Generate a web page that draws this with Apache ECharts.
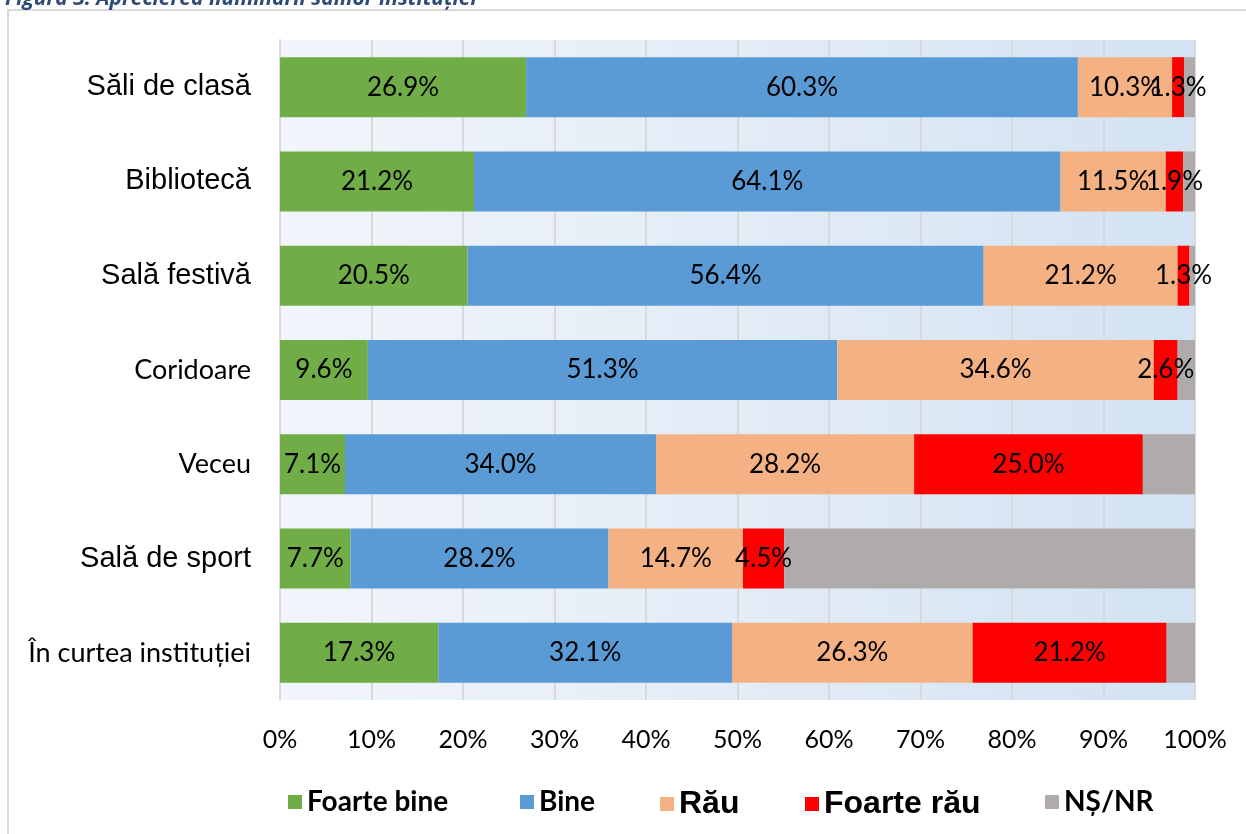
<!DOCTYPE html>
<html>
<head>
<meta charset="utf-8">
<script src="https://cdn.jsdelivr.net/npm/echarts@6/dist/echarts.min.js"></script>
<style>
  html, body { margin: 0; padding: 0; background: #fff; }
  #main { width: 1246px; height: 834px; }
</style>
</head>
<body>
<div id="main"></div>
<script>
// categorii (de sus in jos)
const categories = [
  "Săli de clasă",
  "Bibliotecă",
  "Sală festivă",
  "Coridoare",
  "Veceu",
  "Sală de sport",
  "În curtea instituției"
];
// care etichete sunt scrise cu Calibri in original
const calibriCats = ["Coridoare", "Veceu", "În curtea instituției"];

const foarteBine = [26.9, 21.2, 20.5, 9.6, 7.1, 7.7, 17.3];
const bine       = [60.3, 64.1, 56.4, 51.3, 34.0, 28.2, 32.1];
const rau        = [10.3, 11.5, 21.2, 34.6, 28.2, 14.7, 26.3];
const foarteRau  = [1.3, 1.9, 1.3, 2.6, 25.0, 4.5, 21.2];
const nsnr       = [1.2, 1.3, 0.6, 1.9, 5.7, 44.9, 3.1];

const xTicks = [0, 10, 20, 30, 40, 50, 60, 70, 80, 90, 100];

const CAL = "Lato";
const ARIAL = "Liberation Sans";

var chartDom = document.getElementById("main");
var myChart = echarts.init(chartDom);

function labelCfg(show) {
  return {
    show: show,
    position: "inside",
    color: "#000",
    fontFamily: CAL,
    fontSize: 26,
    formatter: (p) => p.value.toFixed(1) + "%",
  };
}

function serie(name, data, color, showLabel) {
  return {
    name: name,
    type: "bar",
    stack: "total",
    barWidth: 60,
    data: data,
    itemStyle: { color: color },
    label: labelCfg(showLabel),
    emphasis: { disabled: true },
  };
}

// legenda: fiecare element pozitionat separat
function legendItem(name, left, fam, size) {
  return {
    data: [name],
    left: left,
    top: 783,
    itemWidth: 14,
    itemHeight: 14,
    itemGap: 8,
    icon: "rect",
    selectedMode: false,
    textStyle: { fontFamily: fam, fontWeight: "bold", fontSize: size, color: "#000", padding: [0, 0, 0, 0] },
  };
}

var option = {
  animation: false,
  title: {
    text: "Figura 3: Aprecierea iluminării sălilor instituției",
    left: 0,
    top: -16,
    textStyle: { fontFamily: "Open Sans", fontStyle: "italic", fontWeight: "bold", fontSize: 21, color: "#2e4a78" },
  },
  graphic: [
    {
      type: "rect",
      shape: { x: 8, y: 10, width: 1260, height: 840 },
      style: { fill: "none", stroke: "#d9d9d9", lineWidth: 2 },
      silent: true,
    },
  ],
  legend: [
    legendItem("Foarte bine", 283, CAL, 28),
    legendItem("Bine", 515, CAL, 28),
    legendItem("Rău", 655, ARIAL, 32),
    legendItem("Foarte rău", 800, ARIAL, 32),
    legendItem("NȘ/NR", 1040, CAL, 28),
  ],
  grid: {
    left: 280,
    right: 51,
    top: 40,
    bottom: 134,
    show: true,
    borderWidth: 0,
    backgroundColor: new echarts.graphic.LinearGradient(0, 0, 1, 0, [
      { offset: 0, color: "#f2f5fb" },
      { offset: 1, color: "#d3e3f2" },
    ]),
  },
  xAxis: {
    type: "value",
    min: 0,
    max: 100,
    interval: 10,
    axisLine: { show: false },
    axisTick: { show: false },
    splitLine: { show: true, lineStyle: { color: "#d9d9d9", width: 2 } },
    axisLabel: {
      margin: 27,
      fontFamily: CAL,
      fontSize: 25,
      color: "#000",
      formatter: (v) => (xTicks.indexOf(v) >= 0 ? v + "%" : ""),
    },
  },
  yAxis: {
    type: "category",
    inverse: true,
    data: categories,
    axisLine: { show: true, lineStyle: { color: "#d9d9d9", width: 2 } },
    axisTick: { show: false },
    axisLabel: {
      margin: 29,
      color: "#000",
      formatter: (v) => (calibriCats.indexOf(v) >= 0 ? "{c|" + v + "}" : "{a|" + v + "}"),
      rich: {
        a: { fontFamily: ARIAL, fontSize: 29, color: "#000" },
        c: { fontFamily: CAL, fontSize: 27, color: "#000" },
      },
    },
  },
  series: [
    serie("Foarte bine", foarteBine, "#70ad47", true),
    serie("Bine", bine, "#5b9bd5", true),
    serie("Rău", rau, "#f4b183", true),
    serie("Foarte rău", foarteRau, "#ff0000", true),
    serie("NȘ/NR", nsnr, "#afabab", false),
  ],
};

option && myChart.setOption(option);
</script>
</body>
</html>
